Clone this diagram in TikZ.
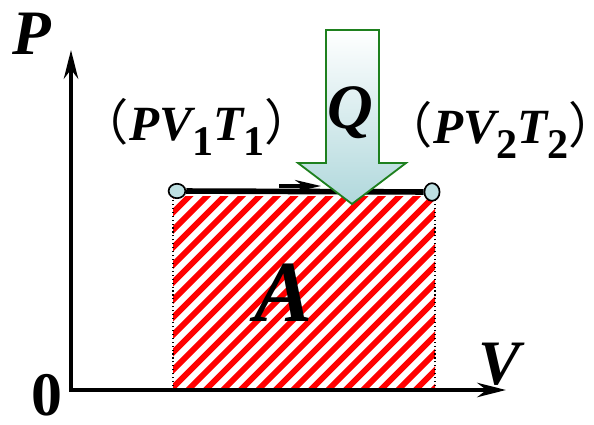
\documentclass[tikz,border=0pt]{standalone}
\usepackage{fontspec}
\setmainfont{Liberation Serif}
\newfontfamily\cjk{Noto Sans CJK SC}
\usetikzlibrary{arrows.meta, shapes.geometric}
\definecolor{hatchred}{RGB}{255,0,0}
\definecolor{pointblue}{RGB}{190,224,226}
\definecolor{arrowgreen}{RGB}{30,128,30}
\definecolor{arrowcyan}{RGB}{176,216,220}
\newcommand{\statesub}[1]{\raisebox{-0.32em}{\upshape\fontsize{30}{30}\selectfont #1}}
\newcommand{\lparen}{\makebox[0.62em][r]{\cjk\mdseries\upshape （}}
\newcommand{\rparen}{\makebox[0.55em][l]{\cjk\mdseries\upshape ）}}
\tikzstyle{axis} = [
    line width=2.8pt,
    -{Stealth[length=0.72cm,width=0.36cm]}
]
\tikzstyle{bigletter} = [
    inner sep=0pt,
    font=\fontsize{45}{50}\selectfont\bfseries\itshape
]
\tikzstyle{statetext} = [
    inner sep=0pt,
    font=\fontsize{35}{40}\selectfont\bfseries\itshape
]
\tikzstyle{endpoint} = [
    ellipse,
    draw=black,
    line width=1.2pt,
    fill=pointblue,
    minimum width=0.42cm,
    minimum height=0.36cm,
    inner sep=0pt
]
\tikzstyle{heatarrow} = [
    draw=arrowgreen,
    line width=1.3pt,
    top color=white,
    bottom color=arrowcyan
]

\begin{document}
\begin{tikzpicture}[x=0.025cm, y=0.025cm]
\useasboundingbox (0,0) rectangle (594,424);

% work area under the isobar
\begin{scope}
\clip (173,34) rectangle (435,228);
\foreach \i in {-230,-212.5,...,280}
    \draw [hatchred, line width=4.2pt] (173+\i,34) -- ++(260,260);
\end{scope}
\draw [dotted, line width=0.8pt] (173,34) -- (173,228);
\draw [dotted, line width=0.8pt] (435,34) -- (435,228);

% axes
\coordinate (origin) at (71,34);
\coordinate (ptop) at (71,374);
\coordinate (vend) at (506,34);
\draw [axis] ([yshift=-1.4pt]origin) -- (ptop);
\draw [axis] ([xshift=-1.4pt]origin) -- (vend);
\node (plabel) [bigletter] at (32,390) {P};
\node (vlabel) [bigletter] at (500,60) {V};
\node (zero) [bigletter, font=\fontsize{44}{50}\selectfont\bfseries] at (47,29) {0};

% isobaric process
\node (s1) [endpoint] at (177,233) {};
\node (s2) [endpoint, minimum width=0.38cm, minimum height=0.44cm] at (432,232) {};
\draw [line width=4pt] (s1) -- (s2);
\coordinate (dira) at (279,238);
\coordinate (dirb) at (321,238);
\draw [line width=2.6pt, -{Stealth[length=0.65cm,width=0.3cm]}] (dira) -- (dirb);

% heat in
\draw [heatarrow] (326,394) -- (379,394) -- (379,261) -- (406,261)
    -- (352,220) -- (298,261) -- (326,261) -- cycle;
\node (qlabel) [bigletter] at (350,311) {Q};

% state labels
\node (state1) [statetext] at (195,297)
    {\lparen PV\statesub{1}T\statesub{1}\rparen};
\node (state2) [statetext] at (499,294)
    {\lparen PV\statesub{2}T\statesub{2}\rparen};
\node (work) [bigletter, font=\fontsize{62}{64}\selectfont\bfseries\itshape] at (284,131) {A};

\end{tikzpicture}
\end{document}
